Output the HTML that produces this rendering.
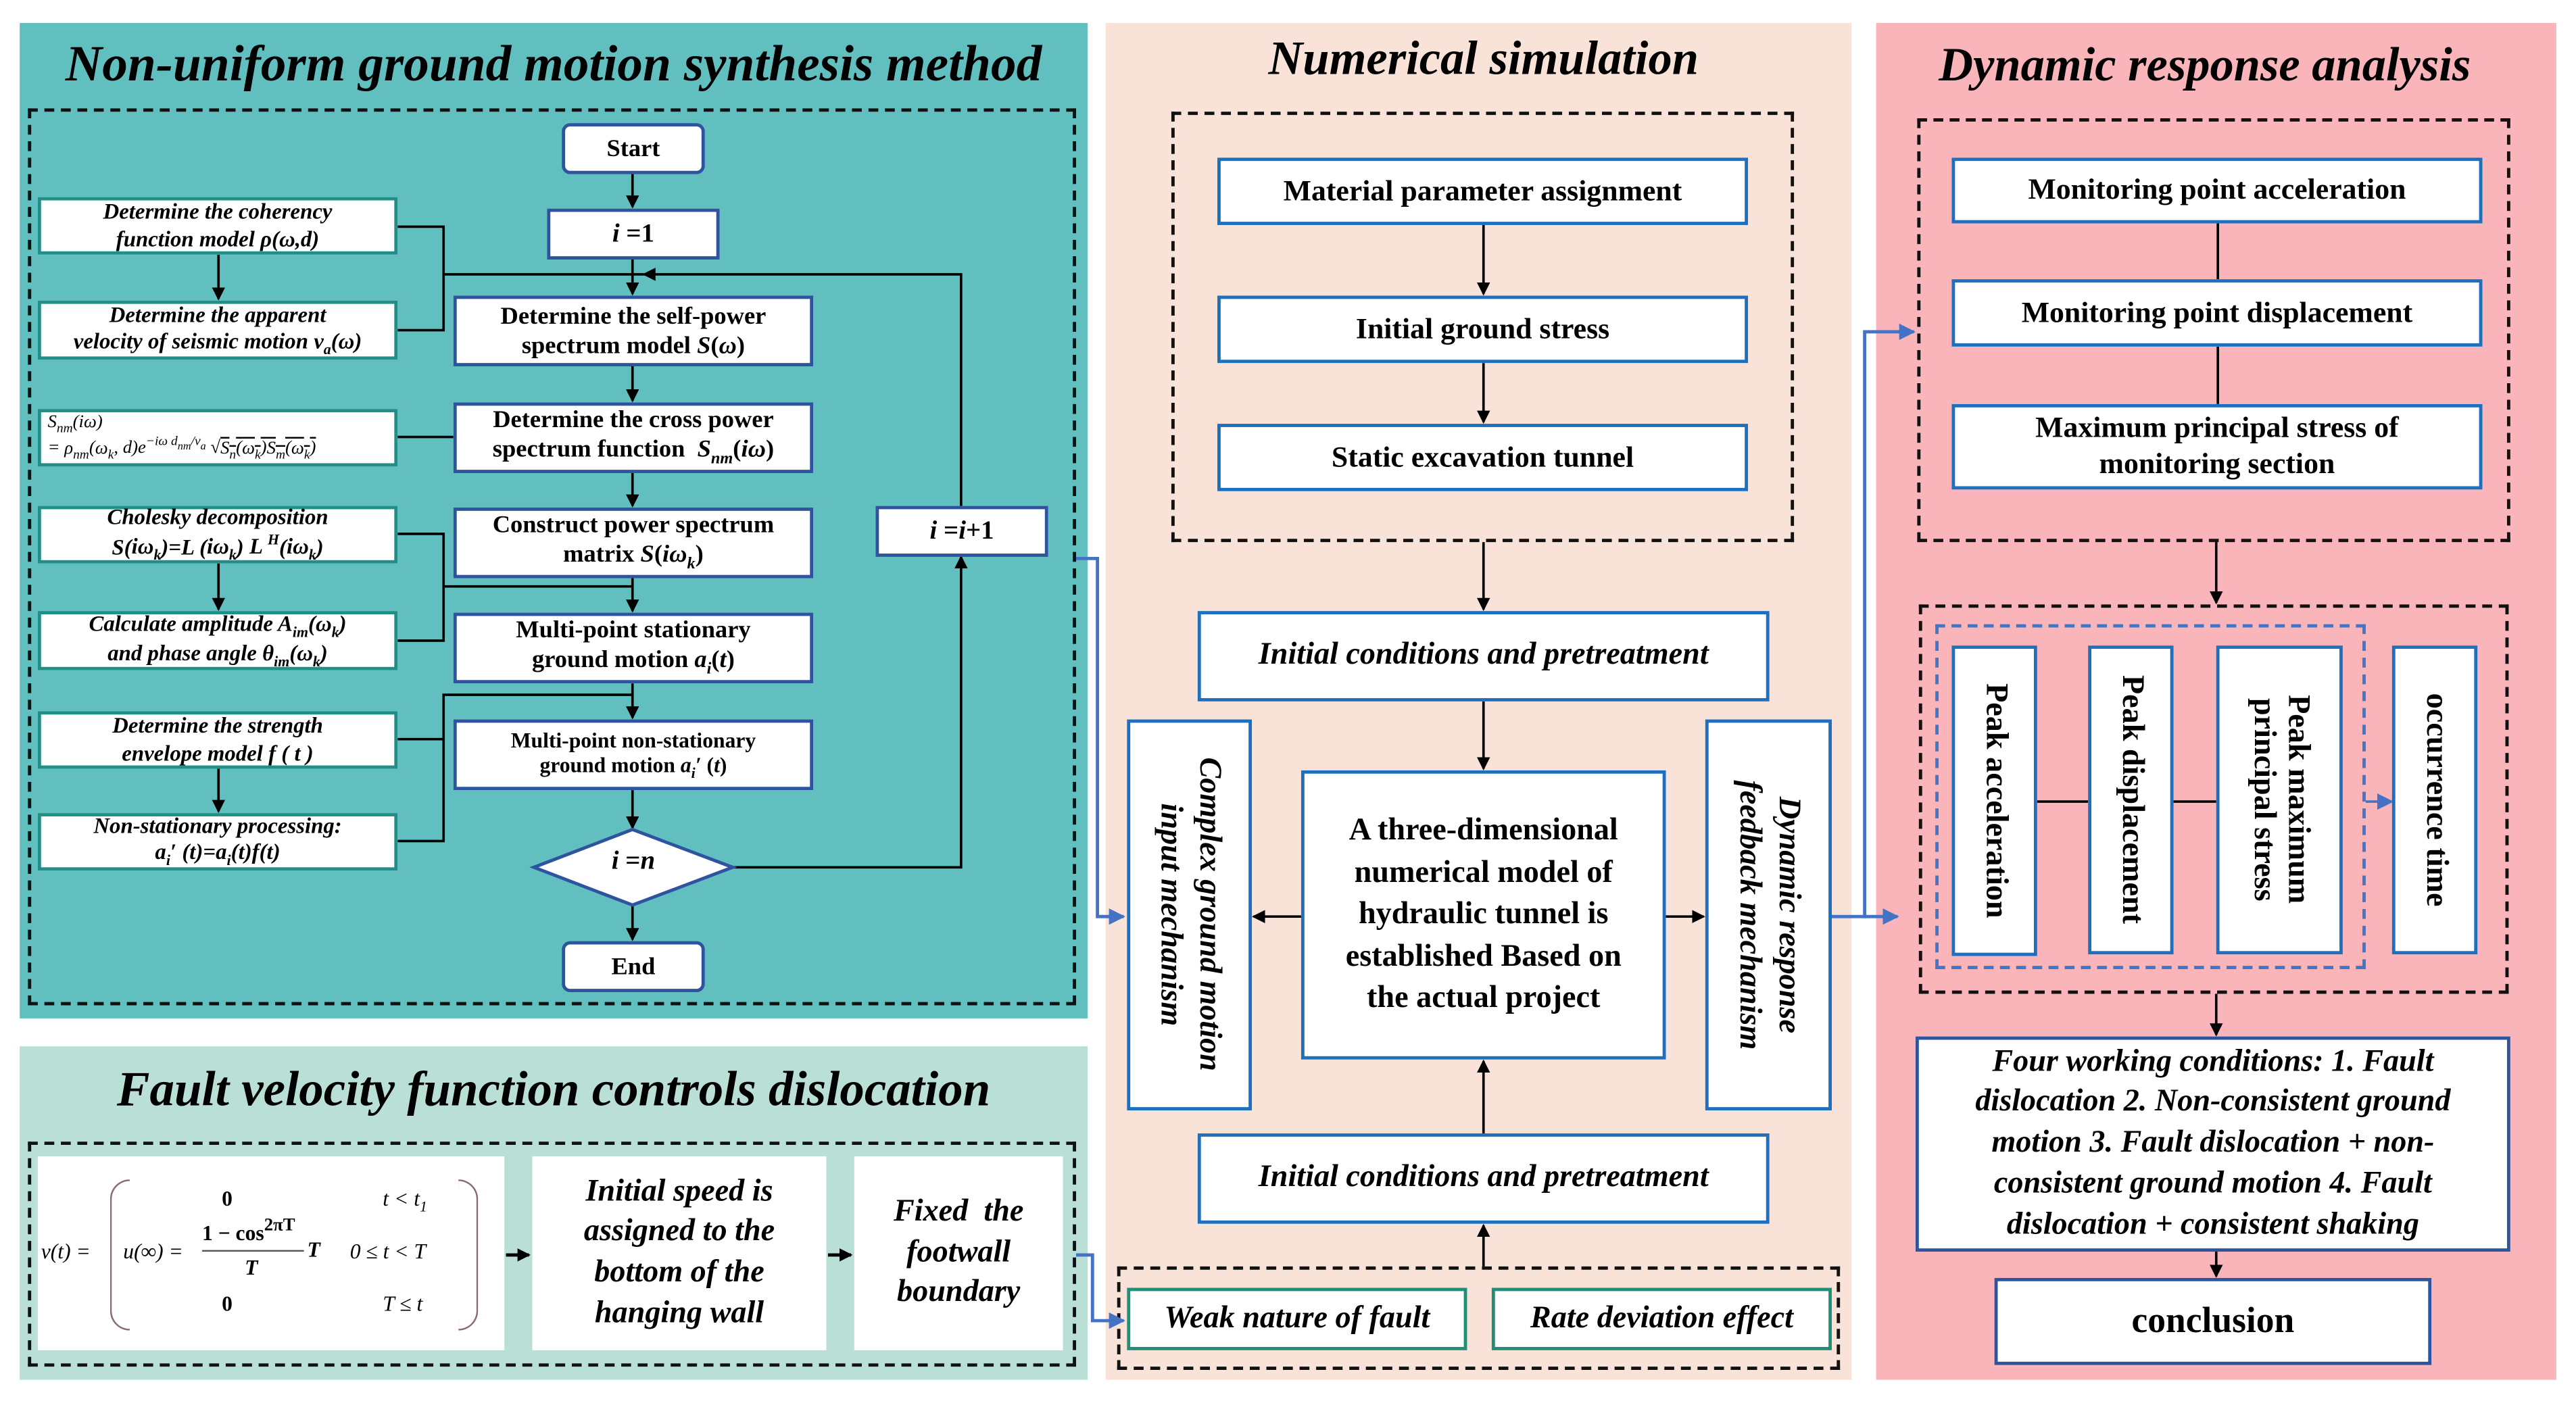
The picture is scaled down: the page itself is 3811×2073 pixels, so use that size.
<!DOCTYPE html>
<html><head><meta charset="utf-8">
<style>
html,body{margin:0;padding:0;background:#fff;}
body{width:3811px;height:2073px;overflow:hidden;}
#w{position:absolute;left:0;top:0;width:1568px;height:853px;transform:scale(2.4305);transform-origin:0 0;font-family:"Liberation Serif",serif;color:#000;}
.a{position:absolute;box-sizing:border-box;}
.bx{position:absolute;box-sizing:border-box;background:#fff;display:flex;align-items:center;justify-content:center;text-align:center;line-height:1.2;}
.bl{border:2px solid #2e54a0;font-weight:bold;font-size:15px;}
.tl{border:2px solid #1f8f88;font-style:italic;font-weight:bold;font-size:13.5px;}
.rb{border:2px solid #1f6fbf;font-weight:bold;font-size:18px;}
.gr{border:2px solid #1f8f78;font-style:italic;font-weight:bold;font-size:19px;}
.dash{position:absolute;box-sizing:border-box;border:2px dashed #111;}
.title{position:absolute;font-style:italic;font-weight:bold;white-space:nowrap;text-align:center;}
.v{writing-mode:vertical-rl;}
</style></head><body><div id="w">
<div class="a" style="left:12px;top:14px;width:650px;height:606px;background:#62bfbf;"></div>
<div class="a" style="left:12px;top:637px;width:650px;height:203px;background:#b9dfd6;"></div>
<div class="a" style="left:673px;top:14px;width:454px;height:826px;background:#f9e2d8;"></div>
<div class="a" style="left:1142px;top:14px;width:414px;height:826px;background:#f9b5b9;"></div>

<div class="title" style="left:12px;width:650px;top:21px;font-size:31px;">Non-uniform ground motion synthesis method</div>
<div class="title" style="left:12px;width:650px;top:647px;font-size:30px;">Fault velocity function controls dislocation</div>
<div class="title" style="left:673px;width:460px;top:20px;font-size:29px;">Numerical simulation</div>
<div class="title" style="left:1142px;width:400px;top:24px;font-size:29px;">Dynamic response analysis</div>

<div class="dash" style="left:17px;top:66px;width:638px;height:546px;"></div>
<div class="dash" style="left:17px;top:695px;width:638px;height:137px;"></div>
<div class="dash" style="left:713px;top:68px;width:379px;height:262px;"></div>
<div class="dash" style="left:680px;top:771px;width:440px;height:63px;"></div>
<div class="dash" style="left:1167px;top:72px;width:361px;height:258px;"></div>
<div class="dash" style="left:1168px;top:368px;width:359px;height:237px;"></div>
<div class="a" style="left:1178px;top:380px;width:262px;height:210px;border:2px dashed #3f76c9;"></div>

<svg class="a" style="left:0;top:0" width="1568" height="853" viewBox="0 0 1568 853">
<defs>
<marker id="k" markerWidth="8" markerHeight="8" refX="7" refY="4" orient="auto" markerUnits="userSpaceOnUse"><path d="M0,0L8,4L0,8z" fill="#000"/></marker>
<marker id="b" markerWidth="10" markerHeight="10" refX="9" refY="5" orient="auto" markerUnits="userSpaceOnUse"><path d="M0,0L10,5L0,10z" fill="#4472c4"/></marker>
</defs>
<g stroke="#000" stroke-width="1.5" fill="none">
<line x1="385" y1="106" x2="385" y2="126" marker-end="url(#k)"/>
<line x1="385" y1="158" x2="385" y2="179" marker-end="url(#k)"/>
<line x1="385" y1="223" x2="385" y2="244" marker-end="url(#k)"/>
<line x1="385" y1="288" x2="385" y2="308" marker-end="url(#k)"/>
<line x1="385" y1="352" x2="385" y2="372" marker-end="url(#k)"/>
<line x1="385" y1="416" x2="385" y2="437" marker-end="url(#k)"/>
<line x1="385" y1="481" x2="385" y2="504" marker-end="url(#k)"/>
<line x1="385" y1="551" x2="385" y2="572" marker-end="url(#k)"/>
<polyline points="446,528 585,528 585,339" marker-end="url(#k)"/>
<polyline points="585,308 585,167 392,167" marker-end="url(#k)"/>
<polyline points="242,138 270,138 270,201 242,201"/>
<line x1="270" y1="167" x2="392" y2="167"/>
<line x1="242" y1="266" x2="276" y2="266"/>
<polyline points="242,325 270,325 270,390 242,390"/>
<line x1="270" y1="357" x2="385" y2="357"/>
<polyline points="242,450 270,450 270,512 242,512"/>
<polyline points="270,450 270,423 385,423"/>
<line x1="133" y1="155" x2="133" y2="182" marker-end="url(#k)"/>
<line x1="133" y1="343" x2="133" y2="371" marker-end="url(#k)"/>
<line x1="133" y1="468" x2="133" y2="494" marker-end="url(#k)"/>
<line x1="308" y1="764" x2="322" y2="764" stroke-width="2" marker-end="url(#k)"/>
<line x1="504" y1="764" x2="518" y2="764" stroke-width="2" marker-end="url(#k)"/>
<line x1="903" y1="137" x2="903" y2="179" marker-end="url(#k)"/>
<line x1="903" y1="221" x2="903" y2="257" marker-end="url(#k)"/>
<line x1="903" y1="330" x2="903" y2="371" marker-end="url(#k)"/>
<line x1="903" y1="427" x2="903" y2="468" marker-end="url(#k)"/>
<line x1="903" y1="690" x2="903" y2="646" marker-end="url(#k)"/>
<line x1="903" y1="771" x2="903" y2="746" marker-end="url(#k)"/>
<line x1="792" y1="558" x2="763" y2="558" marker-end="url(#k)"/>
<line x1="1014" y1="558" x2="1037" y2="558" marker-end="url(#k)"/>
<line x1="1350" y1="136" x2="1350" y2="170"/>
<line x1="1350" y1="211" x2="1350" y2="246"/>
<line x1="1349" y1="330" x2="1349" y2="367" marker-end="url(#k)"/>
<line x1="1349" y1="605" x2="1349" y2="630" marker-end="url(#k)"/>
<line x1="1349" y1="762" x2="1349" y2="777" marker-end="url(#k)"/>
<line x1="1240" y1="488" x2="1271" y2="488"/>
<line x1="1323" y1="488" x2="1349" y2="488"/>
</g>
<g stroke="#4472c4" stroke-width="2" fill="none">
<polyline points="655,340 668,340 668,558 684,558" marker-end="url(#b)"/>
<polyline points="655,764 665,764 665,804 684,804" marker-end="url(#b)"/>
<polyline points="1115,558 1135,558 1135,202 1165,202" marker-end="url(#b)"/>
<line x1="1135" y1="558" x2="1155" y2="558" marker-end="url(#b)"/>
<line x1="1440" y1="488" x2="1456" y2="488" stroke-width="1.5" marker-end="url(#b)"/>
</g>
<polygon points="385,505 446,528 385,551 325,528" fill="#fff" stroke="#2e54a0" stroke-width="2"/>
</svg>

<div class="bx bl" style="left:342px;top:75px;width:87px;height:31px;border-radius:5px;">Start</div>
<div class="bx bl" style="left:333px;top:127px;width:105px;height:31px;font-size:16px;"><span><i>i</i> =1</span></div>
<div class="bx bl" style="left:276px;top:180px;width:219px;height:43px;"><span>Determine the self-power<br>spectrum model <i>S</i>(<i>ω</i>)</span></div>
<div class="bx bl" style="left:276px;top:245px;width:219px;height:43px;"><span>Determine the cross power<br>spectrum function &nbsp;<i>S<sub style="font-size:10px">nm</sub></i>(<i>iω</i>)</span></div>
<div class="bx bl" style="left:276px;top:309px;width:219px;height:43px;"><span>Construct power spectrum<br>matrix <i>S</i>(<i>iω<sub style="font-size:10px">k</sub></i>)</span></div>
<div class="bx bl" style="left:276px;top:373px;width:219px;height:43px;"><span>Multi-point stationary<br>ground motion <i>a<sub style="font-size:10px">i</sub></i>(<i>t</i>)</span></div>
<div class="bx bl" style="left:276px;top:438px;width:219px;height:43px;font-size:13px;"><span>Multi-point non-stationary<br>ground motion <i>a<sub style="font-size:9px">i</sub>′</i> (<i>t</i>)</span></div>
<div class="a" style="left:325px;top:516px;width:121px;text-align:center;font-weight:bold;font-size:16px;"><i>i</i> =<i>n</i></div>
<div class="bx bl" style="left:342px;top:573px;width:87px;height:31px;border-radius:5px;">End</div>
<div class="bx bl" style="left:533px;top:308px;width:105px;height:31px;font-size:16px;"><span><i>i</i> =<i>i</i>+1</span></div>

<div class="bx tl" style="left:23px;top:120px;width:219px;height:35px;"><span>Determine the coherency<br>function model <i>ρ</i>(<i>ω</i>,<i>d</i>)</span></div>
<div class="bx tl" style="left:23px;top:183px;width:219px;height:36px;"><span>Determine the apparent<br>velocity of seismic motion <i>v<sub style="font-size:9px">a</sub></i>(<i>ω</i>)</span></div>
<div class="bx tl" style="left:23px;top:249px;width:219px;height:35px;font-weight:normal;font-size:11px;justify-content:flex-start;padding-left:4px;text-align:left;line-height:1.05;"><span><i>S<sub style="font-size:8px">nm</sub></i>(<i>iω</i>)<br>= <i>ρ<sub style="font-size:8px">nm</sub></i>(<i>ω<sub style="font-size:8px">k</sub></i>, d)<i>e</i><sup style="font-size:8px">−iω d<sub>nm</sub>/v<sub>a</sub></sup> √<span style="text-decoration:overline"><i>S<sub style="font-size:8px">n</sub></i>(<i>ω<sub style="font-size:8px">k</sub></i>)<i>S<sub style="font-size:8px">m</sub></i>(<i>ω<sub style="font-size:8px">k</sub></i>)</span></span></div>
<div class="bx tl" style="left:23px;top:308px;width:219px;height:35px;"><span>Cholesky decomposition<br><i>S</i>(<i>iω<sub style="font-size:9px">k</sub></i>)=<i>L</i> (<i>iω<sub style="font-size:9px">k</sub></i>) <i>L <sup style="font-size:9px">H</sup></i>(<i>iω<sub style="font-size:9px">k</sub></i>)</span></div>
<div class="bx tl" style="left:23px;top:372px;width:219px;height:36px;"><span>Calculate amplitude <i>A<sub style="font-size:9px">im</sub></i>(<i>ω<sub style="font-size:9px">k</sub></i>)<br>and phase angle <i>θ<sub style="font-size:9px">im</sub></i>(<i>ω<sub style="font-size:9px">k</sub></i>)</span></div>
<div class="bx tl" style="left:23px;top:433px;width:219px;height:35px;"><span>Determine the strength<br>envelope model <i>f</i> ( <i>t</i> )</span></div>
<div class="bx tl" style="left:23px;top:495px;width:219px;height:35px;"><span>Non-stationary processing:<br><i>a<sub style="font-size:9px">i</sub>′</i> (<i>t</i>)=<i>a<sub style="font-size:9px">i</sub></i>(<i>t</i>)<i>f</i>(<i>t</i>)</span></div>

<div class="a" style="left:23px;top:704px;width:284px;height:118px;background:#fff;font-size:13px;font-style:italic;">
 <div class="a" style="left:2px;top:50px;">v(t) =</div>
 <div class="a" style="left:44px;top:14px;width:12px;height:92px;border:1.5px solid #8a6a6a;border-right:none;border-radius:12px 0 0 12px;"></div>
 <div class="a" style="left:256px;top:14px;width:12px;height:92px;border:1.5px solid #8a6a6a;border-left:none;border-radius:0 12px 12px 0;"></div>
 <div class="a" style="left:112px;top:18px;font-weight:bold;font-style:normal;">0</div>
 <div class="a" style="left:210px;top:18px;">t &lt; t<sub style="font-size:9px">1</sub></div>
 <div class="a" style="left:52px;top:50px;">u(∞) =</div>
 <div class="a" style="left:100px;top:36px;font-weight:bold;font-style:normal;">1 − cos<span style="font-size:11px;vertical-align:6px;">2πT</span></div>
 <div class="a" style="left:100px;top:57px;width:62px;border-top:1.5px solid #555;"></div>
 <div class="a" style="left:164px;top:49px;font-weight:bold;">T</div>
 <div class="a" style="left:126px;top:60px;font-weight:bold;">T</div>
 <div class="a" style="left:190px;top:50px;">0 ≤ t &lt; T</div>
 <div class="a" style="left:112px;top:82px;font-weight:bold;font-style:normal;">0</div>
 <div class="a" style="left:210px;top:82px;">T ≤ t</div>
</div>
<div class="bx" style="left:324px;top:704px;width:179px;height:118px;font-style:italic;font-weight:bold;font-size:19px;line-height:1.3;"><span>Initial speed is<br>assigned to the<br>bottom of the<br>hanging wall</span></div>
<div class="bx" style="left:520px;top:704px;width:127px;height:118px;font-style:italic;font-weight:bold;font-size:19px;line-height:1.3;"><span>Fixed &nbsp;the<br>footwall<br>boundary</span></div>

<div class="bx rb" style="left:741px;top:96px;width:323px;height:41px;">Material parameter assignment</div>
<div class="bx rb" style="left:741px;top:180px;width:323px;height:41px;">Initial ground stress</div>
<div class="bx rb" style="left:741px;top:258px;width:323px;height:41px;">Static excavation tunnel</div>
<div class="bx rb" style="left:729px;top:372px;width:348px;height:55px;font-style:italic;font-size:19px;">Initial conditions and pretreatment</div>
<div class="bx rb" style="left:792px;top:469px;width:222px;height:176px;font-size:19px;line-height:1.35;"><span>A three-dimensional<br>numerical model of<br>hydraulic tunnel is<br>established Based on<br>the actual project</span></div>
<div class="bx rb v" style="left:686px;top:438px;width:76px;height:238px;font-style:italic;font-size:19px;line-height:1.25;"><span>Complex ground motion<br>input mechanism</span></div>
<div class="bx rb v" style="left:1038px;top:438px;width:77px;height:238px;font-style:italic;font-size:19px;line-height:1.25;"><span>Dynamic response<br>feedback mechanism</span></div>
<div class="bx rb" style="left:729px;top:690px;width:348px;height:55px;font-style:italic;font-size:19px;">Initial conditions and pretreatment</div>
<div class="bx gr" style="left:686px;top:784px;width:207px;height:38px;">Weak nature of fault</div>
<div class="bx gr" style="left:908px;top:784px;width:207px;height:38px;">Rate deviation effect</div>

<div class="bx rb" style="left:1188px;top:96px;width:323px;height:40px;">Monitoring point acceleration</div>
<div class="bx rb" style="left:1188px;top:170px;width:323px;height:41px;">Monitoring point displacement</div>
<div class="bx rb" style="left:1188px;top:246px;width:323px;height:52px;"><span>Maximum principal stress of<br>monitoring section</span></div>
<div class="bx rb v" style="left:1188px;top:393px;width:52px;height:189px;font-size:19px;">Peak acceleration</div>
<div class="bx rb v" style="left:1271px;top:393px;width:52px;height:188px;font-size:19px;">Peak displacement</div>
<div class="bx rb v" style="left:1349px;top:393px;width:77px;height:188px;line-height:1.1;font-size:19px;"><span>Peak maximum<br>principal stress</span></div>
<div class="bx rb v" style="left:1456px;top:393px;width:52px;height:188px;font-size:19px;">occurrence time</div>
<div class="bx rb" style="left:1166px;top:631px;width:362px;height:131px;font-style:italic;font-size:19px;line-height:1.3;border-color:#2e54a0;"><span>Four working conditions: 1. Fault<br>dislocation 2. Non-consistent ground<br>motion 3. Fault dislocation + non-<br>consistent ground motion 4. Fault<br>dislocation + consistent shaking</span></div>
<div class="bx rb" style="left:1214px;top:778px;width:266px;height:53px;font-size:22px;border-color:#2e54a0;">conclusion</div>
</div></body></html>
